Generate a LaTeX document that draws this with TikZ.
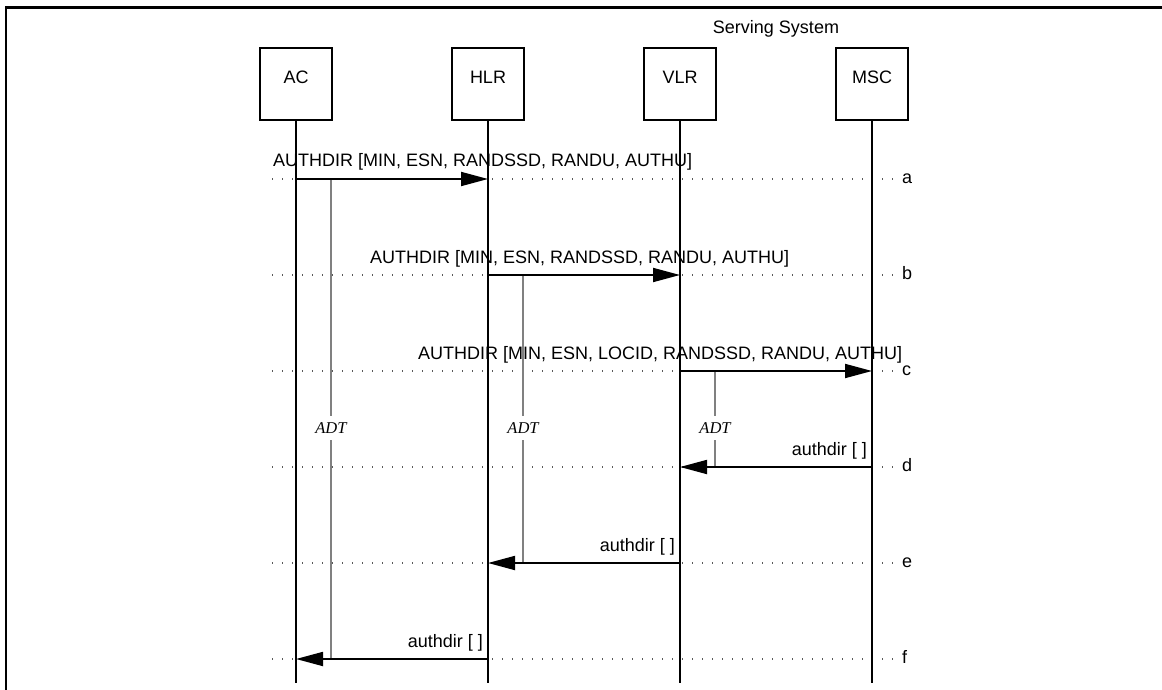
\documentclass[tikz,border=0pt]{standalone}
\usepackage{fontspec}
\setmainfont{Liberation Sans}
\newfontfamily\adtfont{Liberation Serif}
\usetikzlibrary{arrows.meta}
\begin{document}
\begin{tikzpicture}[x=1pt,y=-1pt,
  every node/.style={font=\fontsize{18}{21}\selectfont, inner sep=0pt},
  entity/.style={draw, line width=1.6pt, minimum width=72pt, minimum height=72pt,
                 text height=13pt, text depth=14pt},
  life/.style={line width=1.8pt},
  msg/.style={line width=1.8pt, -{Triangle[length=27pt,width=14pt]}},
  guide/.style={line width=1.5pt, black!65, dash pattern=on 1.4pt off 8.6pt},
  adtline/.style={line width=2pt, black!50},
  adtlabel/.style={fill=white, font=\adtfont\itshape\fontsize{16.5}{18}\selectfont,
                   inner xsep=2pt, inner ysep=7pt},
  frame/.style={line width=2.6pt}
]
\useasboundingbox (0,0) rectangle (1162,690);
\draw[frame] (6,690) -- (6,7.5) -- (1162,7.5);

% header
\node (ss) at (776,29) {Serving System};
\node[entity] (ac)  at (296,84) {AC};
\node[entity] (hlr) at (488,84) {HLR};
\node[entity] (vlr) at (680,84) {VLR};
\node[entity] (msc) at (872,84) {MSC};

% row coordinates, guides and row letters
\foreach \r/\yy in {a/179,b/275,c/371,d/467,e/563,f/659}{
  \foreach \n in {ac,hlr,vlr,msc}{
    \coordinate (\n-\r) at (\n.south |- 0,\yy);
    \coordinate (\n-adt-\r) at ([xshift=35pt]\n.south |- 0,\yy);
  }
  \coordinate (gl-\r) at (272,\yy);
  \coordinate (gr-\r) at (895,\yy);
  \draw[guide] (gl-\r) -- (gr-\r);
  \node[anchor=base west] (row-\r) at (902,\yy+4.5) {\r};
}

% lifelines
\foreach \n in {ac,hlr,vlr,msc}{
  \coordinate (\n-end) at (\n.south |- 0,683);
  \draw[life] (\n.south) -- (\n-end);
}

% ADT timers
\draw[adtline] (ac-adt-a) -- (ac-adt-f);
\draw[adtline] (hlr-adt-b) -- (hlr-adt-e);
\draw[adtline] (vlr-adt-c) -- (vlr-adt-d);
\node[adtlabel] (adt1) at (331,428) {ADT};
\node[adtlabel] (adt2) at (523,428) {ADT};
\node[adtlabel] (adt3) at (715,428) {ADT};

% messages
\draw[msg] (ac-a) -- (hlr-a);
\node[anchor=base west] (la) at (273,167) {AUTHDIR [MIN, ESN, RANDSSD, RANDU, AUTHU]};
\draw[msg] (hlr-b) -- (vlr-b);
\node[anchor=base west] (lb) at (370,263) {AUTHDIR [MIN, ESN, RANDSSD, RANDU, AUTHU]};
\draw[msg] (vlr-c) -- (msc-c);
\node[anchor=base west] (lc) at (418,359) {AUTHDIR [MIN, ESN, LOCID, RANDSSD, RANDU, AUTHU]};
\draw[msg] (msc-d) -- (vlr-d);
\node[anchor=base east] (ld) at (867,455) {authdir [ ]};
\draw[msg] (vlr-e) -- (hlr-e);
\node[anchor=base east] (le) at (675,551) {authdir [ ]};
\draw[msg] (hlr-f) -- (ac-f);
\node[anchor=base east] (lf) at (483,647) {authdir [ ]};
\end{tikzpicture}
\end{document}
